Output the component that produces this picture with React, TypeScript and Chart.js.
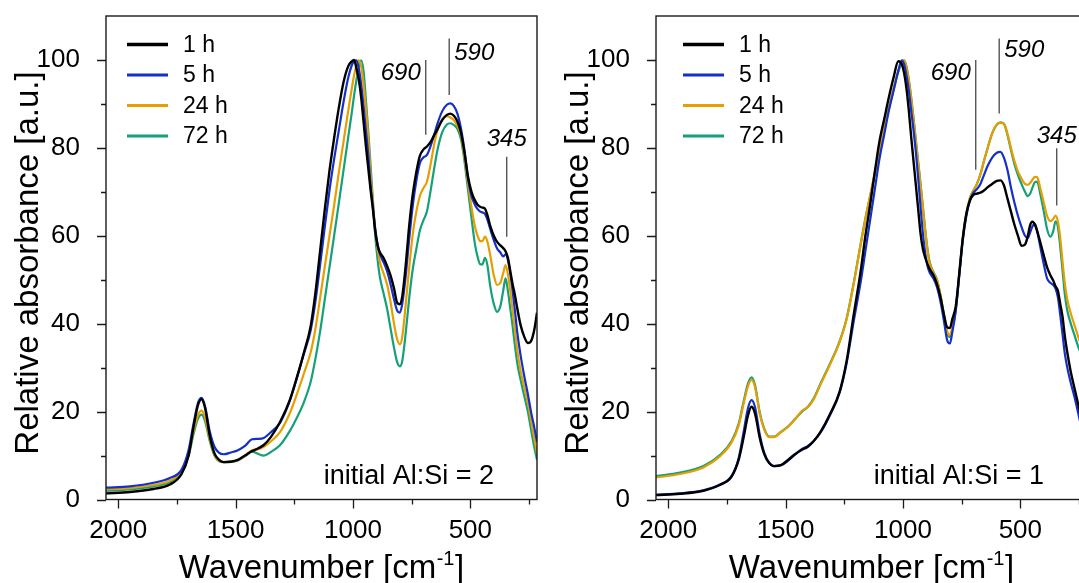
import React, { useEffect, useRef } from 'react';
import { Chart, registerables } from 'chart.js';

Chart.register(...registerables);

const FONT_FAMILY = '"Liberation Sans", Arial, Helvetica, sans-serif';

// Wavenumber grid [cm-1], shared by all spectra (descending)
const WAVENUMBERS = [
  2052, 1950, 1850, 1780, 1730, 1700, 1680, 1660, 1645, 1630,
  1610, 1590, 1570, 1550, 1520, 1490, 1460, 1430, 1405, 1380,
  1350, 1310, 1270, 1240, 1210, 1180, 1160, 1140, 1120, 1100,
  1080, 1060, 1040, 1020, 1005, 995, 985, 975, 965, 955,
  945, 935, 925, 915, 905, 895, 885, 870, 855, 840,
  825, 812, 800, 790, 775, 760, 745, 730, 715, 700,
  685, 670, 655, 640, 620, 600, 585, 570, 555, 540,
  525, 510, 495, 480, 468, 458, 448, 438, 428, 415,
  400, 386, 372, 360, 350, 340, 330, 320, 310, 300,
  285, 270, 255, 240, 228, 216,
];

const SERIES_LABELS = ['1 h', '5 h', '24 h', '72 h'];
const SERIES_COLORS = ['#000000', '#1430C8', '#E69F00', '#14A078'];

// initial Al:Si = 2
const LEFT_1H = [
  1.4, 1.7, 2.4, 3.4, 5.8, 10.0, 16.2, 21.5, 22.8, 20.8,
  14.5, 10.5, 9.0, 8.5, 8.6, 9.0, 10.0, 11.0, 11.6, 12.4,
  14.2, 17.7, 22.5, 27.6, 33.2, 39.5, 47.0, 56.5, 66.0, 74.8,
  82.3, 89.2, 95.0, 98.6, 99.7, 100.0, 98.0, 95.5, 91.5, 86.0,
  80.5, 75.5, 70.5, 66.0, 61.0, 57.8, 56.2, 55.0, 53.2, 51.0,
  48.0, 44.8, 44.4, 46.2, 53.5, 62.5, 69.5, 74.5, 78.2, 79.6,
  80.3, 81.3, 82.8, 84.2, 86.3, 87.5, 87.8, 87.3, 86.0, 83.5,
  79.0, 73.5, 70.0, 68.0, 67.0, 66.6, 66.4, 66.2, 64.8, 62.2,
  60.0, 58.6, 57.8, 57.2, 56.5, 55.0, 52.0, 49.0, 46.5, 43.5,
  39.5, 37.0, 35.6, 36.2, 38.5, 42.5,
];
const LEFT_5H = [
  2.7, 3.0, 3.8, 4.9, 6.8, 11.3, 17.0, 22.0, 23.1, 21.2,
  15.5, 12.0, 10.6, 10.3, 10.7, 11.2, 12.2, 13.7, 13.8, 14.0,
  15.3, 17.5, 22.3, 27.4, 33.0, 38.5, 45.0, 53.3, 62.0, 70.3,
  77.5, 84.0, 90.5, 96.0, 98.8, 99.7, 99.9, 98.0, 94.5, 89.5,
  84.0, 78.5, 71.5, 66.5, 61.5, 58.0, 55.8, 54.0, 52.0, 49.0,
  45.5, 43.0, 42.5, 44.5, 51.0, 59.5, 67.0, 72.5, 76.5, 77.8,
  78.4, 80.3, 82.8, 85.5, 88.3, 89.8, 90.1, 89.5, 87.8, 84.5,
  79.5, 73.0, 69.0, 67.0, 66.0, 65.5, 65.3, 65.0, 63.8, 61.5,
  59.0, 57.1, 56.2, 55.3, 55.8, 54.5, 51.5, 47.5, 43.0, 38.0,
  32.5, 28.0, 24.0, 19.5, 16.5, 13.0,
];
const LEFT_24H = [
  2.3, 2.6, 3.3, 4.3, 6.5, 10.5, 15.4, 19.2, 20.2, 18.6,
  13.8, 10.2, 8.8, 8.5, 8.7, 9.0, 10.0, 11.2, 11.4, 12.0,
  13.2, 15.4, 19.5, 23.8, 28.5, 33.5, 38.8, 45.8, 53.0, 60.0,
  67.0, 74.5, 81.5, 88.5, 93.5, 96.5, 98.7, 99.9, 98.5, 94.5,
  89.0, 82.5, 74.0, 67.5, 61.5, 57.0, 54.0, 51.5, 49.0, 45.0,
  40.0, 36.5, 35.3, 37.0, 44.5, 53.0, 60.5, 65.5, 69.0, 70.8,
  72.3, 76.0, 80.5, 84.0, 86.5, 87.2, 86.9, 86.3, 85.0, 83.0,
  78.0, 72.0, 66.5, 62.0, 59.8, 58.8, 58.8, 59.8, 58.8, 55.5,
  51.0, 48.8, 49.3, 51.5, 53.3, 51.3, 47.5, 43.0, 38.5, 34.0,
  29.0, 25.5, 22.0, 17.5, 14.0, 10.5,
];
const LEFT_72H = [
  2.0, 2.3, 3.0, 4.0, 6.2, 10.0, 14.7, 18.4, 19.3, 17.8,
  13.3, 10.0, 8.7, 8.5, 8.6, 8.9, 9.8, 10.9, 10.4, 10.0,
  10.8, 12.4, 15.5, 18.5, 22.0, 26.8, 32.0, 38.2, 45.5, 52.8,
  60.1, 67.5, 75.0, 82.5, 88.0, 92.0, 95.5, 98.5, 99.9, 97.5,
  91.0, 84.0, 76.0, 68.0, 60.0, 54.5, 50.5, 47.0, 43.5, 39.0,
  34.5, 31.3, 30.3, 31.5, 38.0, 46.0, 52.5, 57.0, 61.2, 63.5,
  65.5, 70.0, 75.0, 79.5, 83.5, 85.3, 85.6, 85.2, 84.3, 82.0,
  77.0, 70.5, 64.0, 58.0, 55.0, 53.5, 53.5, 55.0, 53.5, 48.5,
  44.5, 42.7, 44.0, 47.5, 50.3, 47.5, 43.5, 39.5, 35.0, 31.0,
  27.0, 23.5, 20.0, 15.5, 12.0, 9.0,
];

// initial Al:Si = 1
const RIGHT_1H = [
  1.0, 1.3, 2.0, 3.3, 5.2, 9.0, 13.8, 19.2, 21.1, 19.5,
  14.0, 10.2, 8.3, 7.6, 7.8, 9.0, 10.3, 11.3, 12.0, 13.3,
  15.5, 19.5, 24.5, 31.5, 42.0, 52.0, 60.0, 67.0, 74.5, 81.5,
  86.5, 91.5, 96.0, 99.7, 99.0, 97.0, 93.5, 88.5, 82.5, 77.0,
  71.5, 66.0, 60.5, 57.0, 55.0, 53.5, 52.3, 51.0, 49.0, 46.0,
  42.0, 39.2, 39.0, 41.0, 44.0, 51.5, 59.5, 65.0, 68.0, 69.3,
  69.6, 69.8, 70.3, 71.0, 71.8, 72.5, 72.6, 71.5, 68.5, 65.5,
  62.5, 60.0, 57.7, 58.0, 60.0, 62.5, 63.2, 62.5, 61.0, 58.5,
  55.5, 52.8, 51.0, 49.8, 48.5, 47.5, 44.5, 41.5, 37.0, 33.5,
  29.0, 25.5, 22.0, 18.5, 16.0, 13.5,
];
const RIGHT_5H = [
  1.1, 1.4, 2.1, 3.4, 5.4, 9.4, 15.0, 20.8, 22.6, 21.0,
  14.8, 10.5, 8.4, 7.6, 7.8, 8.8, 10.2, 11.5, 12.2, 13.3,
  15.3, 19.3, 24.3, 31.0, 40.5, 49.5, 56.5, 63.5, 70.5, 77.5,
  83.0, 88.5, 93.0, 97.5, 99.9, 99.0, 96.5, 93.0, 88.5, 84.0,
  79.0, 73.0, 66.5, 60.5, 56.0, 53.0, 51.5, 50.3, 48.3, 45.0,
  40.5, 36.3, 35.5, 38.0, 43.0, 51.0, 59.0, 64.5, 68.0, 69.8,
  70.6, 71.8, 73.8, 75.8, 77.8, 78.9, 79.1, 77.8, 75.0, 71.0,
  67.5, 64.5, 62.0, 60.0, 59.5, 60.8, 62.2, 62.7, 61.0, 57.5,
  53.5, 50.3, 49.3, 48.8, 48.0, 46.0, 42.0, 37.5, 33.0, 30.0,
  26.5, 23.5, 20.0, 16.5, 14.5, 12.5,
];
const RIGHT_24H = [
  5.0, 5.8, 7.3, 9.8, 13.0, 16.8, 21.5, 25.8, 27.2, 25.5,
  19.5, 15.8, 14.2, 14.2, 15.3, 16.5, 18.2, 20.2, 21.0, 22.8,
  26.3, 30.8, 35.8, 41.0, 49.0, 58.0, 63.8, 69.0, 74.3, 79.3,
  84.3, 89.0, 93.5, 97.5, 99.5, 99.9, 98.3, 95.3, 91.3, 86.5,
  81.5, 76.5, 71.5, 66.3, 61.0, 56.5, 53.5, 51.5, 50.0, 46.5,
  42.0, 38.3, 37.4, 39.0, 43.5, 51.5, 59.5, 65.0, 68.5, 70.3,
  71.8, 74.0, 77.0, 79.8, 83.3, 85.3, 85.7, 85.5, 83.3, 80.0,
  77.0, 74.6, 73.0, 71.8, 71.6, 72.0, 72.8, 73.4, 73.3, 70.8,
  67.5, 64.5, 63.3, 63.8, 64.6, 63.3, 59.5, 54.0, 49.0, 45.5,
  42.3, 39.8, 37.3, 35.0, 33.3, 31.5,
];
const RIGHT_72H = [
  5.3, 6.1, 7.6, 10.1, 13.3, 17.2, 22.0, 26.4, 27.8, 26.0,
  19.8, 16.0, 14.3, 14.3, 15.4, 16.6, 18.3, 20.0, 21.1, 23.0,
  26.5, 31.0, 36.0, 41.2, 49.2, 58.2, 64.0, 69.0, 74.1, 79.1,
  84.3, 88.8, 93.3, 97.3, 99.4, 99.9, 98.5, 95.5, 91.5, 86.8,
  81.8, 76.8, 71.8, 66.6, 61.3, 56.8, 53.8, 51.7, 50.0, 46.3,
  41.5, 37.8, 37.0, 38.7, 43.2, 51.3, 59.3, 65.0, 68.5, 70.3,
  71.8, 74.0, 77.0, 79.8, 83.3, 85.3, 85.8, 85.5, 83.0, 79.5,
  76.3, 73.8, 71.8, 70.0, 69.0, 69.6, 71.0, 72.2, 72.3, 69.5,
  65.5, 61.5, 59.8, 61.0, 63.3, 62.0, 57.5, 52.0, 46.5, 43.0,
  40.0, 37.5, 35.0, 32.8, 31.0, 29.0,
];

const X_MIN = 216;
const X_MAX = 2052;
const Y_MIN = 0;
const Y_MAX = 110;
const X_MAJOR_TICKS = [2000, 1500, 1000, 500];
const X_MINOR_TICKS = [1750, 1250, 750, 250];
const Y_MAJOR_TICKS = [0, 20, 40, 60, 80, 100];
const Y_MINOR_TICKS = [10, 30, 50, 70, 90];

const BAND_LABELS = ['690', '590', '345'];
const BAND_POSITIONS = [690, 590, 345];
const BAND_ALIGN = ['right', 'left', 'center'];
const LEFT_BAND_TOP = [100, 104.9, 78];
const LEFT_BAND_BOTTOM = [83, 92, 59.8];
const LEFT_BAND_TEXT_Y = [97, 101.6, 82];
const RIGHT_BAND_TOP = [100, 104.9, 79.9];
const RIGHT_BAND_BOTTOM = [75, 87.8, 66.9];
const RIGHT_BAND_TEXT_Y = [97, 102.2, 82.6];

const X_TITLE = 'Wavenumber [cm';
const X_TITLE_SUP = '-1';
const Y_TITLE = 'Relative absorbance [a.u.]';

type Panel = {
  series: number[][];
  note: string;
  legendX: number;
  bandTop: number[];
  bandBottom: number[];
  bandTextY: number[];
};

const LEFT_PANEL: Panel = {
  series: [LEFT_1H, LEFT_5H, LEFT_24H, LEFT_72H],
  note: 'initial Al:Si = 2',
  legendX: 127,
  bandTop: LEFT_BAND_TOP,
  bandBottom: LEFT_BAND_BOTTOM,
  bandTextY: LEFT_BAND_TEXT_Y,
};
const RIGHT_PANEL: Panel = {
  series: [RIGHT_1H, RIGHT_5H, RIGHT_24H, RIGHT_72H],
  note: 'initial Al:Si = 1',
  legendX: 133,
  bandTop: RIGHT_BAND_TOP,
  bandBottom: RIGHT_BAND_BOTTOM,
  bandTextY: RIGHT_BAND_TEXT_Y,
};

const font = (size: number, style = '') => `${style} ${size}px ${FONT_FAMILY}`.trim();

function decorPlugin(panel: Panel) {
  return {
    id: 'panelDecor',
    afterDraw(chart: any) {
      const { ctx, chartArea: a, scales } = chart;
      const xs = scales.x;
      const ys = scales.y;
      ctx.save();

      // frame
      ctx.strokeStyle = '#1a1a1a';
      ctx.lineWidth = 1.4;
      ctx.strokeRect(a.left, a.top, a.right - a.left, a.bottom - a.top);

      // tick marks (outward)
      ctx.beginPath();
      X_MAJOR_TICKS.forEach((v) => {
        const p = Math.round(xs.getPixelForValue(v)) + 0.5;
        ctx.moveTo(p, a.bottom);
        ctx.lineTo(p, a.bottom + 9);
      });
      X_MINOR_TICKS.forEach((v) => {
        if (v < X_MIN || v > X_MAX) return;
        const p = Math.round(xs.getPixelForValue(v)) + 0.5;
        ctx.moveTo(p, a.bottom);
        ctx.lineTo(p, a.bottom + 5);
      });
      Y_MAJOR_TICKS.forEach((v) => {
        const p = Math.round(ys.getPixelForValue(v)) + 0.5;
        ctx.moveTo(a.left, p);
        ctx.lineTo(a.left - 9, p);
      });
      Y_MINOR_TICKS.forEach((v) => {
        const p = Math.round(ys.getPixelForValue(v)) + 0.5;
        ctx.moveTo(a.left, p);
        ctx.lineTo(a.left - 5, p);
      });
      ctx.lineWidth = 1.3;
      ctx.stroke();

      ctx.fillStyle = '#000';

      // x title with superscript
      const mainSize = 33;
      const supSize = 20;
      ctx.font = font(mainSize);
      const w1 = ctx.measureText(X_TITLE).width;
      const w3 = ctx.measureText(']').width;
      ctx.font = font(supSize);
      const w2 = ctx.measureText(X_TITLE_SUP).width;
      const total = w1 + w2 + w3 + 1;
      let tx = (a.left + a.right) / 2 - total / 2;
      const baseY = 578;
      ctx.textAlign = 'left';
      ctx.textBaseline = 'alphabetic';
      ctx.font = font(mainSize);
      ctx.fillText(X_TITLE, tx, baseY);
      tx += w1 + 0.5;
      ctx.font = font(supSize);
      ctx.fillText(X_TITLE_SUP, tx, baseY - 13);
      tx += w2 + 0.5;
      ctx.font = font(mainSize);
      ctx.fillText(']', tx, baseY);

      // y title
      ctx.save();
      ctx.translate(29, 263);
      ctx.rotate(-Math.PI / 2);
      ctx.textAlign = 'center';
      ctx.textBaseline = 'middle';
      ctx.font = font(mainSize);
      ctx.fillText(Y_TITLE, 0, 0);
      ctx.restore();

      // legend
      chart.data.datasets.forEach((ds: any, i: number) => {
        const ly = 44.5 + i * 30.5;
        ctx.beginPath();
        ctx.strokeStyle = ds.borderColor;
        ctx.lineWidth = i === 0 ? 3.5 : 3;
        ctx.moveTo(panel.legendX, ly);
        ctx.lineTo(panel.legendX + 41, ly);
        ctx.stroke();
        ctx.font = font(23);
        ctx.textAlign = 'left';
        ctx.textBaseline = 'middle';
        ctx.fillStyle = '#000';
        ctx.fillText(ds.label, panel.legendX + 56, ly + 1);
      });

      // band markers
      BAND_POSITIONS.forEach((wn, i) => {
        const px = xs.getPixelForValue(wn);
        ctx.beginPath();
        ctx.strokeStyle = '#555';
        ctx.lineWidth = 1.4;
        ctx.moveTo(px, ys.getPixelForValue(panel.bandTop[i]));
        ctx.lineTo(px, ys.getPixelForValue(panel.bandBottom[i]));
        ctx.stroke();
        ctx.font = font(24, 'italic');
        ctx.fillStyle = '#000';
        ctx.textBaseline = 'middle';
        const align = BAND_ALIGN[i];
        ctx.textAlign = align as CanvasTextAlign;
        const off = align === 'right' ? -5 : align === 'left' ? 5 : 0;
        ctx.fillText(BAND_LABELS[i], px + off, ys.getPixelForValue(panel.bandTextY[i]));
      });

      // inset note
      ctx.font = font(27);
      ctx.textAlign = 'right';
      ctx.textBaseline = 'middle';
      ctx.fillStyle = '#000';
      ctx.fillText(panel.note, a.right - 43, a.bottom - 23);

      ctx.restore();
    },
  };
}

function makeChart(canvas: HTMLCanvasElement, panel: Panel) {
  const datasets = panel.series.map((vals, i) => ({
    label: SERIES_LABELS[i],
    data: WAVENUMBERS.map((x, j) => ({ x, y: vals[j] })).filter((p) => p.y !== undefined),
    borderColor: SERIES_COLORS[i],
    backgroundColor: SERIES_COLORS[i],
    borderWidth: i === 0 ? 2.4 : 2.2,
    pointRadius: 0,
    fill: false,
    cubicInterpolationMode: 'monotone' as const,
  }));
  const tickFont = { family: FONT_FAMILY, size: 26 };
  return new Chart(canvas, {
    type: 'line',
    data: { datasets },
    options: {
      responsive: false,
      animation: false,
      devicePixelRatio: 1,
      layout: { padding: { left: 0, right: 23, top: 16, bottom: 0 } },
      plugins: { legend: { display: false }, tooltip: { enabled: false } },
      scales: {
        x: {
          type: 'linear',
          reverse: true,
          min: X_MIN,
          max: X_MAX,
          grid: { display: false },
          border: { display: false },
          afterBuildTicks: (s: any) => {
            s.ticks = X_MAJOR_TICKS.map((value) => ({ value }));
          },
          afterFit: (s: any) => {
            s.height = 83.5;
            s.paddingLeft = 0;
            s.paddingRight = 0;
          },
          ticks: {
            font: tickFont,
            color: '#000',
            padding: 8,
            maxRotation: 0,
            minRotation: 0,
            autoSkip: false,
            callback: (v: any) => String(v),
          },
        },
        y: {
          type: 'linear',
          min: Y_MIN,
          max: Y_MAX,
          grid: { display: false },
          border: { display: false },
          afterBuildTicks: (s: any) => {
            s.ticks = Y_MAJOR_TICKS.map((value) => ({ value }));
          },
          afterFit: (s: any) => {
            s.width = 106;
            s.paddingTop = 0;
            s.paddingBottom = 0;
          },
          ticks: {
            font: tickFont,
            color: '#000',
            padding: 18,
            autoSkip: false,
            callback: (v: any) => String(v),
          },
        },
      },
    },
    plugins: [decorPlugin(panel)],
  } as any);
}

export default function App() {
  const leftRef = useRef<HTMLCanvasElement>(null);
  const rightRef = useRef<HTMLCanvasElement>(null);

  useEffect(() => {
    const c1 = makeChart(leftRef.current as HTMLCanvasElement, LEFT_PANEL);
    const c2 = makeChart(rightRef.current as HTMLCanvasElement, RIGHT_PANEL);
    return () => {
      c1.destroy();
      c2.destroy();
    };
  }, []);

  return (
    <div
      style={{
        position: 'fixed',
        left: 0,
        top: 0,
        width: 1079,
        height: 583,
        overflow: 'hidden',
        background: '#fff',
      }}
    >
      <canvas
        ref={leftRef}
        width={560}
        height={583}
        style={{ position: 'absolute', left: 0, top: 0, width: 560, height: 583 }}
      />
      <canvas
        ref={rightRef}
        width={560}
        height={583}
        style={{ position: 'absolute', left: 550, top: 0, width: 560, height: 583 }}
      />
    </div>
  );
}
